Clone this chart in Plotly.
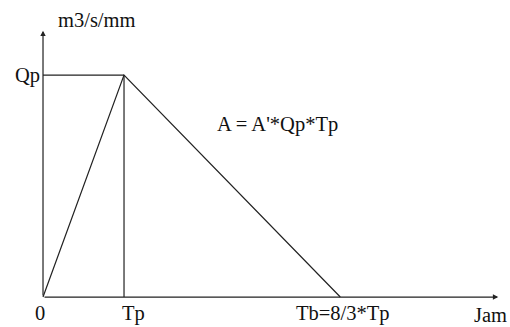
"""
Synthetic unit hydrograph (triangular) sketch
"""
import plotly.graph_objects as go

# hydrograph points (Tp = 1, Qp = 1; positions)
hydro_x = [0, 1.0, 3.67]
hydro_y = [0, 1.0, 0]

# peak lines
tp = 1.0
qp = 1.0

# axis extents
x_end = 5.62
y_end = 1.2

# labels
x_tick_vals = [-0.04, 1.12, 3.70]
x_tick_text = ['0', 'Tp', 'Tb=8/3*Tp']
y_label = 'm3/s/mm'
x_label = 'Jam'
area_text = "A = A'*Qp*Tp"

FONT = 'Liberation Serif, Times New Roman, serif'
LINE = dict(color='#222222', width=1.2)
TXT = dict(family=FONT, size=20.5, color='#111111')

fig = go.Figure()

# rising + falling limb
fig.add_trace(go.Scatter(x=hydro_x, y=hydro_y, mode='lines', line=LINE,
                         hoverinfo='skip'))
# vertical line at Tp
fig.add_trace(go.Scatter(x=[tp, tp], y=[0, qp], mode='lines', line=LINE,
                         hoverinfo='skip'))
# horizontal line at Qp
fig.add_trace(go.Scatter(x=[0, tp], y=[qp, qp], mode='lines', line=LINE,
                         hoverinfo='skip'))

# axes with arrows
fig.add_annotation(x=x_end, y=0, ax=0, ay=0, xref='x', yref='y', axref='x', ayref='y',
                   showarrow=True, arrowhead=2, arrowsize=0.9, arrowwidth=1.2,
                   arrowcolor='#222222', text='')
fig.add_annotation(x=0, y=y_end, ax=0, ay=0, xref='x', yref='y', axref='x', ayref='y',
                   showarrow=True, arrowhead=2, arrowsize=0.9, arrowwidth=1.2,
                   arrowcolor='#222222', text='')

# text labels
for xv, t in zip(x_tick_vals, x_tick_text):
    fig.add_annotation(x=xv, y=-0.072, text=t, showarrow=False, font=TXT)
fig.add_annotation(x=5.52, y=-0.08, text=x_label, showarrow=False, font=TXT)
fig.add_annotation(x=-0.01, y=qp, text='Qp', showarrow=False, xanchor='right',
                   font=TXT)
fig.add_annotation(x=0.67, y=1.248, text=y_label, showarrow=False, font=TXT)
fig.add_annotation(x=2.9, y=0.775, text=area_text, showarrow=False, font=TXT)

fig.update_layout(
    width=510, height=327,
    margin=dict(l=0, r=0, t=0, b=0),
    plot_bgcolor='white', paper_bgcolor='white',
    showlegend=False,
)
fig.update_xaxes(range=[-0.531, 5.765], visible=False)
fig.update_yaxes(range=[-0.135, 1.338], visible=False)

# page body has a default 8px margin; drop it so the figure fills the window
fig.write_html('out.html', config={'displayModeBar': False},
               post_script="document.body.style.margin='0';")
